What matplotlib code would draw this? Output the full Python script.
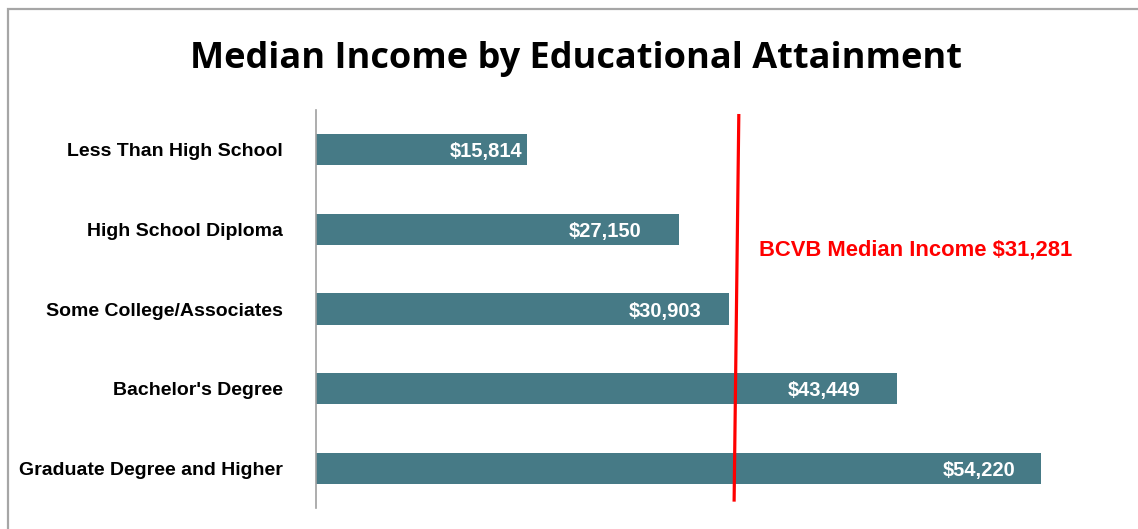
import matplotlib.pyplot as plt
from matplotlib.patches import Rectangle

# median income by level of schooling
categories = ['Less Than High School', 'High School Diploma', 'Some College/Associates',
              "Bachelor's Degree", 'Graduate Degree and Higher']
incomes = [15814, 27150, 30903, 43449, 54220]
bcvb_median = 31281

bar_color = '#467a86'
sans = ['Liberation Sans', 'DejaVu Sans']

fig = plt.figure(figsize=(11.38, 5.29), dpi=100)

# grey outer frame, only the top and left edges fall inside the figure
fig.patches.append(Rectangle((8 / 1138, -0.1), 1.2, 1.1 - 9 / 529, transform=fig.transFigure,
                             fill=False, edgecolor='#a6a6a6', linewidth=1.6))

fig.text(0.506, 1 - 68 / 529, 'Median Income by Educational Attainment', ha='center',
         va='baseline', fontsize=26, fontweight='bold', family=['Open Sans', 'DejaVu Sans'])

ax = fig.add_axes([316 / 1138, 1 - 508 / 529, 802 / 1138, 398 / 529])
ypos = range(len(categories))
bars = ax.barh(ypos, incomes, height=0.39, color=bar_color)

ax.set_xlim(0, 60000)
ax.set_ylim(4.5, -0.5)
ax.set_xticks([])
ax.set_yticks(list(ypos))
ax.set_yticklabels(categories, fontsize=14, fontweight='bold', family=sans)
ax.tick_params(axis='y', length=0, pad=24)
for side in ['top', 'right', 'bottom']:
    ax.spines[side].set_visible(False)
ax.spines['left'].set_color('#a0a0a0')
ax.spines['left'].set_linewidth(1.2)

# value labels sit inside the end of each bar
label_pad = [4, 27, 20, 26, 18]
for y, v, p in zip(ypos, incomes, label_pad):
    ax.annotate('${:,}'.format(v), (v, y), xytext=(-p, -1.5), textcoords='offset points',
                ha='right', va='center', color='white', fontsize=14.5, fontweight='bold',
                family=sans)

# county median marker, drawn slightly leaning
ax.plot([bcvb_median, bcvb_median + 350], [4.4, -0.43], color='red', linewidth=2.3,
        clip_on=False)
ax.text(33130, 1.334, 'BCVB Median Income ${:,}'.format(bcvb_median), color='red',
        fontsize=15.8, fontweight='bold', family=sans, va='baseline')

fig.savefig('out.png', dpi=100)
